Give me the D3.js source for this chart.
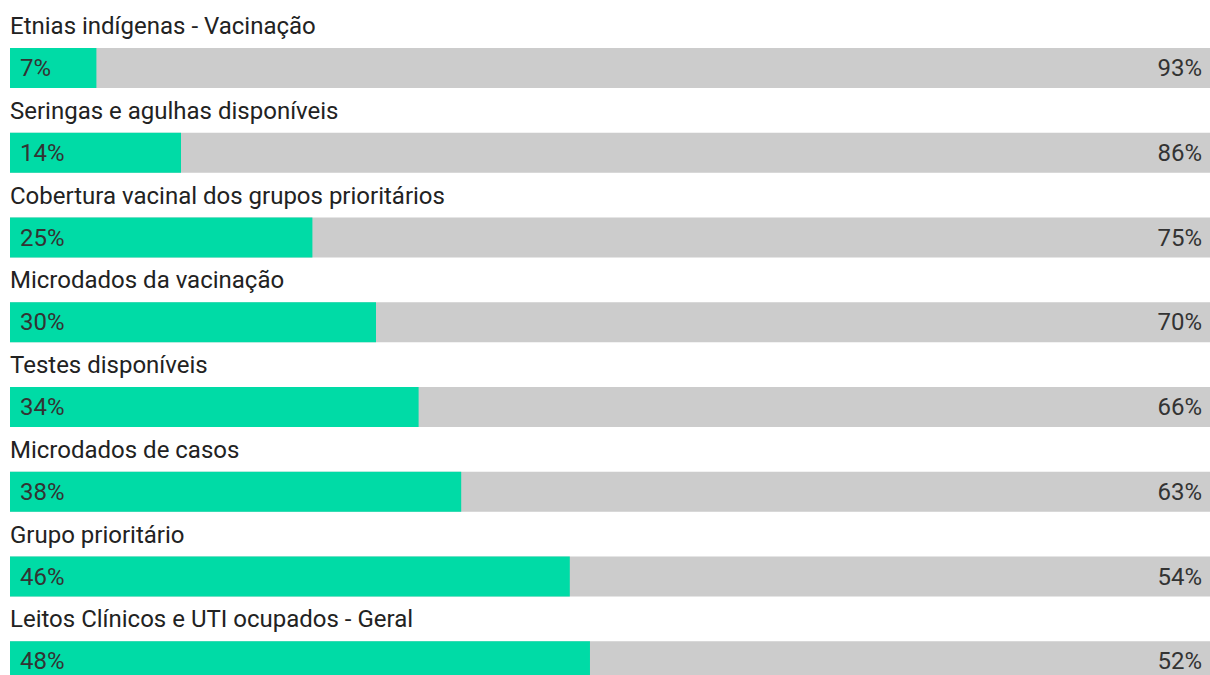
<!DOCTYPE html>
<html><head><meta charset="utf-8">
<script src="https://cdn.jsdelivr.net/npm/d3@7"></script>
<style>html,body{margin:0;padding:0;background:#fff;overflow:hidden}</style>
</head><body>
<svg id="chart" width="1210" height="675"></svg>
<script>
const categories = ["Etnias indígenas - Vacinação","Seringas e agulhas disponíveis","Cobertura vacinal dos grupos prioritários","Microdados da vacinação","Testes disponíveis","Microdados de casos","Grupo prioritário","Leitos Clínicos e UTI ocupados - Geral"];
const values = [7.2, 14.25, 25.2, 30.5, 34.05, 37.6, 46.65, 48.33];
const yesLabels = ["7%","14%","25%","30%","34%","38%","46%","48%"];
const noLabels = ["93%","86%","75%","70%","66%","63%","54%","52%"];

const svg = d3.select("#chart");
const x = d3.scaleLinear().domain([0,100]).range([10,1210]);
const rowY = d3.scaleBand().domain(categories).range([0, 678]).paddingInner(0).paddingOuter(0);
const barTop = 48, barH = 40;

const g = svg.selectAll("g.row").data(categories).join("g").attr("class","row")
  .attr("transform", d => `translate(0,${rowY(d)})`);

g.append("text").attr("x",10).attr("y",barTop-14)
  .attr("font-family","Roboto, sans-serif").attr("font-size",24).attr("fill","#222")
  .text(d => d);

g.append("rect").attr("x",x(0)).attr("y",barTop).attr("width",x(100)-x(0)).attr("height",barH).attr("fill","#cccccc");
g.append("rect").attr("x",x(0)).attr("y",barTop).attr("width",(d,i)=>x(values[i])-x(0)).attr("height",barH).attr("fill","#00dba6");

g.append("text").attr("x",20).attr("y",barTop+28)
  .attr("font-family","Roboto, sans-serif").attr("font-size",24).attr("fill","#333")
  .text((d,i)=>yesLabels[i]);
g.append("text").attr("x",1202).attr("y",barTop+28).attr("text-anchor","end")
  .attr("font-family","Roboto, sans-serif").attr("font-size",24).attr("fill","#333")
  .text((d,i)=>noLabels[i]);
</script>
</body></html>
